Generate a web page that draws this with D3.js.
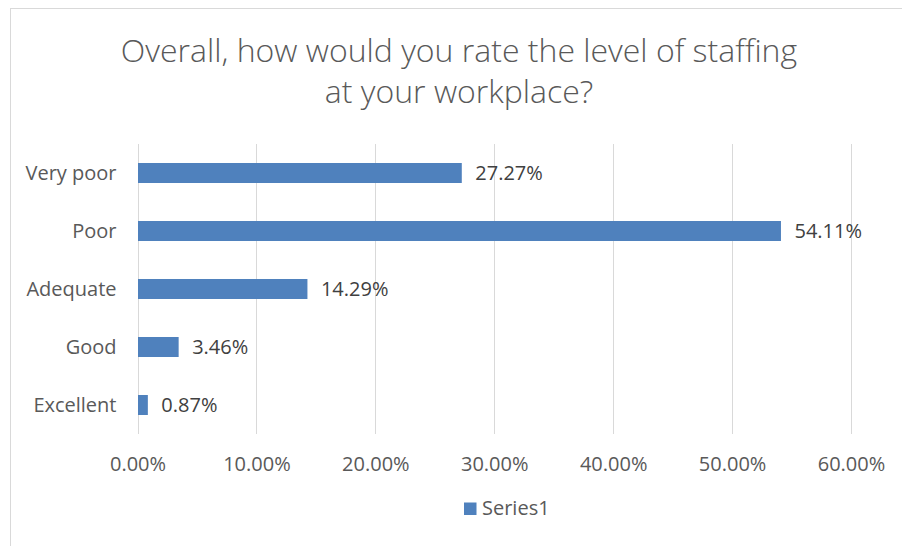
<!DOCTYPE html>
<html>
<head>
<meta charset="utf-8">
<script src="https://cdn.jsdelivr.net/npm/d3@7"></script>
<style>
  html, body { margin: 0; padding: 0; background: #fff; }
  svg { display: block; }
  text { font-family: "Open Sans", "Noto Sans", sans-serif; }
</style>
</head>
<body>
<svg id="chart" width="902" height="546"></svg>
<script>
// Survey responses: share of respondents per staffing rating
const categories = ["Very poor", "Poor", "Adequate", "Good", "Excellent"];
const values = [27.27, 54.11, 14.29, 3.46, 0.87];
const tickValues = [0, 10, 20, 30, 40, 50, 60];
const titleLines = ["Overall, how would you rate the level of staffing", "at your workplace?"];
const seriesName = "Series1";

const plot = { left: 137.5, right: 851, top: 144, bottom: 434 };
const barColor = "#4f81bd";
const labelSize = 20;

const svg = d3.select("#chart");

// chart area frame
svg.append("rect")
  .attr("x", 10.5).attr("y", 8.5)
  .attr("width", 1000).attr("height", 1000)
  .attr("fill", "#fff")
  .attr("stroke", "#d9d9d9").attr("stroke-width", 1);

// title
svg.append("g")
  .selectAll("text")
  .data(titleLines)
  .join("text")
  .attr("x", 459)
  .attr("y", (d, i) => 61.5 + i * 41)
  .attr("text-anchor", "middle")
  .attr("font-size", 32)
  .attr("font-weight", 300)
  .attr("fill", "#595959")
  .text(d => d);

const x = d3.scaleLinear().domain([0, 60]).range([plot.left, plot.right]);
const y = d3.scaleBand().domain(categories).range([plot.top, plot.bottom])
  .paddingInner(0.655).paddingOuter(0.3275);

// vertical gridlines
svg.append("g")
  .selectAll("line")
  .data(tickValues)
  .join("line")
  .attr("x1", d => Math.round(x(d)) + 0.5)
  .attr("x2", d => Math.round(x(d)) + 0.5)
  .attr("y1", plot.top).attr("y2", plot.bottom)
  .attr("stroke", "#d9d9d9").attr("stroke-width", 1);

// x axis labels
const xAxis = d3.axisBottom(x)
  .tickValues(tickValues)
  .tickFormat(d => d.toFixed(2) + "%")
  .tickSize(0).tickPadding(0);
const gx = svg.append("g")
  .attr("transform", `translate(0,${plot.bottom})`)
  .call(xAxis);
gx.select(".domain").remove();
gx.selectAll("text")
  .attr("y", 36.5).attr("dy", null)
  .attr("font-size", labelSize)
  .attr("font-family", "\"Open Sans\", sans-serif")
  .attr("fill", "#595959");

// y axis labels
const yAxis = d3.axisLeft(y).tickSize(0).tickPadding(0);
const gy = svg.append("g")
  .attr("transform", `translate(${plot.left - 21},0)`)
  .call(yAxis);
gy.select(".domain").remove();
gy.selectAll("text")
  .attr("dy", "0.35em")
  .attr("font-size", labelSize)
  .attr("font-family", "\"Open Sans\", sans-serif")
  .attr("fill", "#595959");

// bars
svg.append("g")
  .selectAll("rect")
  .data(values)
  .join("rect")
  .attr("x", x(0) + 0.5)
  .attr("y", (d, i) => y(categories[i]))
  .attr("width", d => x(d) - x(0) - 0.5)
  .attr("height", y.bandwidth())
  .attr("fill", barColor);

// value labels
svg.append("g")
  .selectAll("text")
  .data(values)
  .join("text")
  .attr("x", d => x(d) + 13.5)
  .attr("y", (d, i) => y(categories[i]) + y.bandwidth() / 2)
  .attr("dy", "0.35em")
  .attr("font-size", labelSize)
  .attr("fill", "#404040")
  .text(d => d.toFixed(2) + "%");

// legend
const legend = svg.append("g").attr("transform", "translate(464,502.5)");
legend.append("rect")
  .attr("width", 12.5).attr("height", 12.5)
  .attr("fill", barColor);
legend.append("text")
  .attr("x", 18).attr("y", 12.5)
  .attr("font-size", labelSize)
  .attr("fill", "#595959")
  .text(seriesName);
</script>
</body>
</html>
